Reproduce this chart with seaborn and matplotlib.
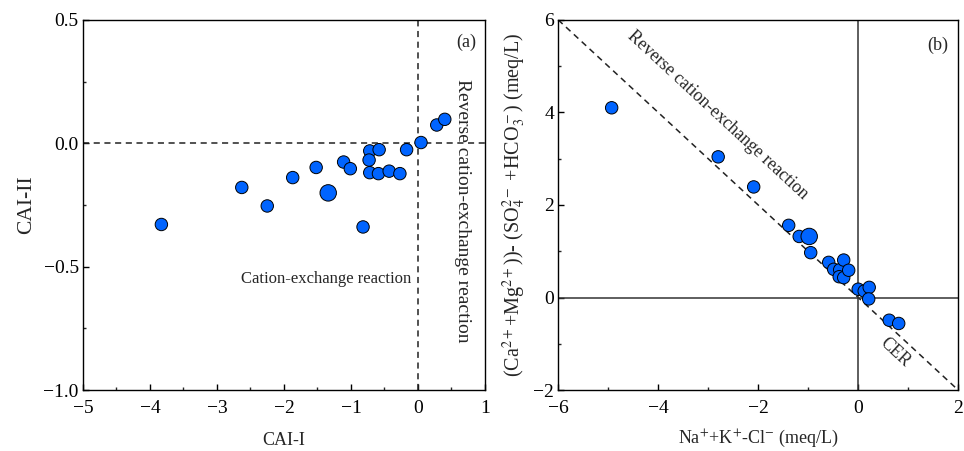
import matplotlib
matplotlib.use("Agg")
import matplotlib.pyplot as plt
import seaborn as sns
import pandas as pd
import numpy as np

# ---- data (a) ----
cai1 = [-3.83, -2.63, -2.25, -1.87, -1.52, -1.34, -1.11, -1.01, -0.82, -0.72,
        -0.58, -0.73, -0.72, -0.59, -0.43, -0.27, -0.17, 0.045, 0.28, 0.40]
cai2 = [-0.329, -0.179, -0.254, -0.139, -0.098, -0.201, -0.076, -0.103, -0.339, -0.031,
        -0.026, -0.068, -0.119, -0.123, -0.113, -0.123, -0.026, 0.003, 0.074, 0.097]
big_a = [False, False, False, False, False, True, False, False, False, False,
         False, False, False, False, False, False, False, False, False, False]

# ---- data (b) ----
nak_cl = [-4.93, -2.80, -2.09, -1.39, -1.18, -0.98, -0.95, -0.59, -0.49, -0.37,
          -0.29, -0.38, -0.29, -0.19, 0.00, 0.12, 0.22, 0.21, 0.62, 0.81]
camg_so4hco3 = [4.10, 3.04, 2.39, 1.56, 1.32, 1.32, 0.97, 0.76, 0.61, 0.60,
                0.81, 0.45, 0.43, 0.59, 0.18, 0.14, 0.22, -0.03, -0.49, -0.56]
big_b = [False, False, False, False, False, True, False, False, False, False,
         False, False, False, False, False, False, False, False, False, False]

df_a = pd.DataFrame({"x": cai1, "y": cai2, "big": big_a})
df_b = pd.DataFrame({"x": nak_cl, "y": camg_so4hco3, "big": big_b})

sns.set_theme(style="ticks")
plt.rcParams["font.family"] = ["Liberation Serif", "DejaVu Serif"]
plt.rcParams["mathtext.fontset"] = "stix"
plt.rcParams["xtick.direction"] = "in"
plt.rcParams["ytick.direction"] = "in"
plt.rcParams["axes.linewidth"] = 1.0
plt.rcParams["axes.edgecolor"] = "black"

fig = plt.figure(figsize=(9.64, 4.51), dpi=100)
ax1 = fig.add_axes([0.0861, 0.135, 0.417, 0.821])
ax2 = fig.add_axes([0.579, 0.135, 0.415, 0.821])

blue = "#0064FF"
sizes = {False: 80, True: 140}

for ax, df in ((ax1, df_a), (ax2, df_b)):
    sns.scatterplot(data=df, x="x", y="y", size="big", sizes=sizes, color=blue,
                    edgecolor="black", linewidth=0.7, legend=False, ax=ax, zorder=3)

tick_fs = 14
# ---- panel (a) ----
ax1.set_xlim(-5, 1)
ax1.set_ylim(-1.0, 0.5)
ax1.axhline(0, color="#222222", ls=(0, (4, 3)), lw=1.1, zorder=1)
ax1.axvline(0, color="#222222", ls=(0, (4, 3)), lw=1.1, zorder=1)
ax1.set_xticks(np.arange(-5, 1.01, 1))
ax1.set_xticks(np.arange(-4.5, 1, 1), minor=True)
ax1.set_yticks([-1.0, -0.5, 0.0, 0.5])
ax1.set_yticks([-0.75, -0.25, 0.25], minor=True)
ax1.set_yticklabels(["\u22121.0", "\u22120.5", "0.0", "0.5"])
ax1.set_xticklabels(["\u22125", "\u22124", "\u22123", "\u22122", "\u22121", "0", "1"])
ax1.set_xlabel("CAI-I", fontsize=13, labelpad=11)
ax1.set_ylabel("CAI-II", fontsize=15.5, labelpad=5)
ax1.text(-1.37, -0.55, "Cation-exchange reaction", fontsize=12, ha="center", va="center")
ax1.text(0.66, -0.274, "Reverse cation-exchange reaction", fontsize=14,
         rotation=270, ha="center", va="center")
ax1.text(0.72, 0.41, "(a)", fontsize=13, ha="center", va="center")

# ---- panel (b) ----
ax2.set_xlim(-6, 2)
ax2.set_ylim(-2, 6)
line_x = np.array([-6, 2])
ax2.plot(line_x, -line_x, color="#222222", ls=(0, (4, 3)), lw=1.1, zorder=1)
ax2.axhline(0, color="#333333", lw=1.1, zorder=1)
ax2.axvline(0, color="#333333", lw=1.1, zorder=1)
ax2.set_xticks([-6, -4, -2, 0, 2])
ax2.set_xticks([-5, -3, -1, 1], minor=True)
ax2.set_yticks([-2, 0, 2, 4, 6])
ax2.set_yticks([-1, 1, 3, 5], minor=True)
ax2.set_xticklabels(["\u22126", "\u22124", "\u22122", "0", "2"])
ax2.set_yticklabels(["\u22122", "0", "2", "4", "6"])
ax2.set_xlabel(r"Na$^{+}$+K$^{+}$-Cl$^{-}$ (meq/L)", fontsize=13, labelpad=8)
ax2.set_ylabel(r"(Ca$^{2+}$+Mg$^{2+}$))- (SO$_4^{2-}$ +HCO$_3^-$) (meq/L)",
               fontsize=14.5, labelpad=4)
ax2.text(-2.81, 3.94, "Reverse cation-exchange reaction", fontsize=12.8,
         rotation=-45, transform_rotates_text=True, rotation_mode="anchor",
         ha="center", va="center")
ax2.text(0.73, -1.18, "CER", fontsize=12.8, rotation=-45, transform_rotates_text=True,
         rotation_mode="anchor", ha="center", va="center")
ax2.text(1.6, 5.45, "(b)", fontsize=13, ha="center", va="center")

for ax in (ax1, ax2):
    ax.tick_params(which="major", length=4, width=1, labelsize=tick_fs, top=False,
                   right=False, colors="black")
    ax.tick_params(axis="x", which="major", pad=7)
    ax.tick_params(axis="y", which="major", pad=3)
    ax.tick_params(which="minor", length=2.5, width=1, top=False, right=False)
    for s in ax.spines.values():
        s.set_visible(True)
        s.set_color("black")

fig.savefig("out.png", dpi=100)
